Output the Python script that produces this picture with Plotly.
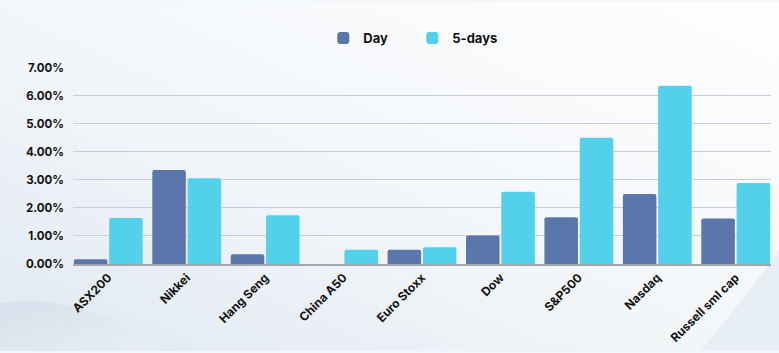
import base64
import plotly.graph_objects as go

categories = ["ASX200", "Nikkei", "Hang Seng", "China A50", "Euro Stoxx",
              "Dow", "S&P500", "Nasdaq", "Russell sml cap"]
day_values = [0.17, 3.36, 0.35, 0.0, 0.51, 1.02, 1.67, 2.50, 1.62]
five_day_values = [1.64, 3.06, 1.74, 0.51, 0.60, 2.58, 4.51, 6.36, 2.89]
y_ticks = [0, 1, 2, 3, 4, 5, 6, 7]
y_tick_labels = ["0.00%", "1.00%", "2.00%", "3.00%", "4.00%", "5.00%", "6.00%", "7.00%"]

FONT = "Inter"
DAY_COLOR = "#5a76aa"
FIVE_COLOR = "#53d0ea"

# decorative background (soft gradient with swooshes)
bg_svg = """<svg xmlns='http://www.w3.org/2000/svg' width='779' height='353' viewBox='0 0 779 353'>
<defs>
<linearGradient id='g' x1='1' y1='0' x2='0' y2='1'>
<stop offset='0' stop-color='#fdfeff'/>
<stop offset='0.55' stop-color='#f3f6f9'/>
<stop offset='1' stop-color='#dfe8f1'/>
</linearGradient>
<linearGradient id='s' x1='0' y1='0' x2='1' y2='1'>
<stop offset='0' stop-color='#d3dfea'/>
<stop offset='1' stop-color='#e9eff5'/>
</linearGradient>
</defs>
<rect width='779' height='353' fill='url(#g)'/>
<path d='M0,305 Q60,295 120,325 Q145,340 160,353 L0,353 Z' fill='url(#s)' opacity='0.8'/>
<path d='M700,353 Q745,300 779,250 L779,353 Z' fill='#e6edf4' opacity='0.9'/>
</svg>"""
bg_src = "data:image/svg+xml;base64," + base64.b64encode(bg_svg.encode()).decode()

fig = go.Figure()
fig.add_trace(go.Bar(name="Day", x=categories, y=day_values,
                     marker=dict(color=DAY_COLOR, cornerradius=2, line=dict(width=0))))
fig.add_trace(go.Bar(name="5-days", x=categories, y=five_day_values,
                     marker=dict(color=FIVE_COLOR, cornerradius=2, line=dict(width=0))))

fig.update_layout(
    width=779, height=353,
    margin=dict(l=73, r=8, t=67, b=88),
    paper_bgcolor="#f4f7fa",
    plot_bgcolor="rgba(0,0,0,0)",
    images=[dict(source=bg_src, xref="paper", yref="paper", x=-73/698, y=1 + 67/198,
                 sizex=779/698, sizey=353/198, xanchor="left", yanchor="top",
                 sizing="stretch", layer="below")],
    barmode="group",
    bargap=0.10,
    bargroupgap=0.05,
    font=dict(family=FONT, color="#111111", size=11),
    showlegend=True,
    legend=dict(orientation="h", xref="container", yref="container",
                x=0.415, y=0.935, xanchor="left", yanchor="top",
                font=dict(family=FONT, size=13, weight="bold", color="#111111"),
                entrywidth=44, entrywidthmode="pixels",
                bgcolor="rgba(0,0,0,0)"),
    xaxis=dict(range=[-0.45, 8.45], tickangle=-45,
               tickfont=dict(family=FONT, size=12, weight="bold", color="#111111"),
               showline=True, linecolor="#a3a7ad", linewidth=2,
               showgrid=False, ticks="", fixedrange=True),
    yaxis=dict(range=[0, 7], tickvals=y_ticks, ticktext=y_tick_labels,
               tickfont=dict(family=FONT, size=11.5, weight="bold", color="#111111"),
               showgrid=True, gridcolor="#c9cdd3", gridwidth=1,
               zeroline=False, showline=False, ticks="", ticklabelstandoff=8),
)

fig.write_html("out.html")
